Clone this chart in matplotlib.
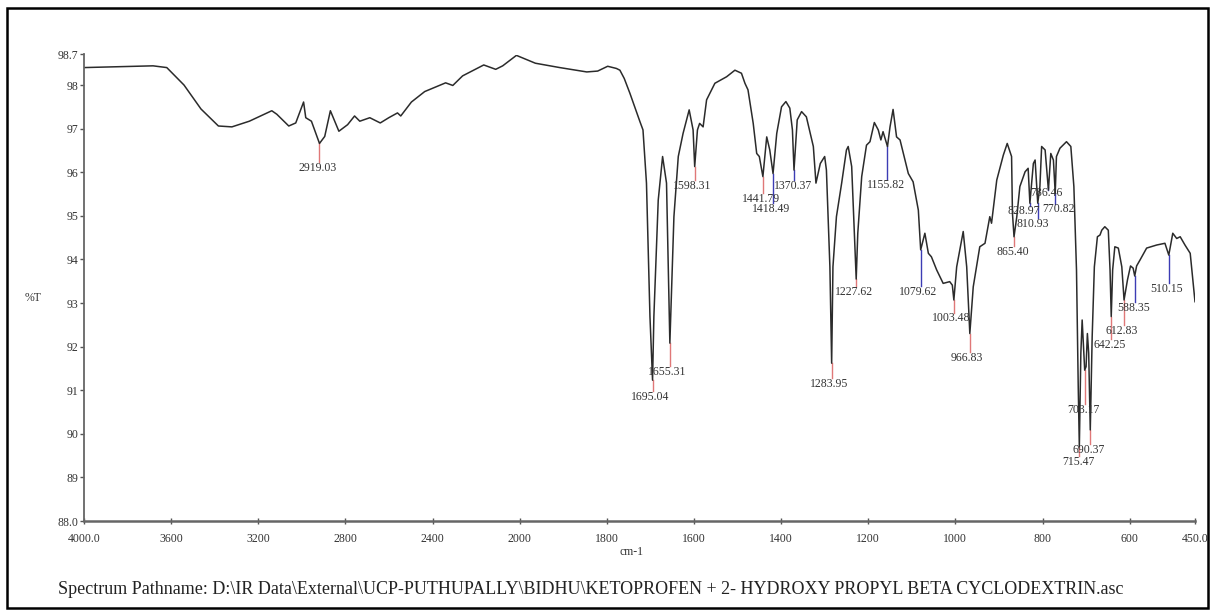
"""IR spectrum: ketoprofen + 2-hydroxypropyl beta cyclodextrin (%T vs cm-1)."""
import matplotlib

matplotlib.use("Agg")  # headless
import matplotlib.pyplot as plt
import numpy as np
from matplotlib.patches import Rectangle

# spectrum, high -> low wavenumber
wavenumber = [
    4000, 3683, 3620, 3541, 3463, 3383, 3321, 3241, 3138, 3115, 3060, 3028,
    2992, 2982, 2956, 2919.03, 2895, 2869, 2830, 2790, 2758, 2734, 2688, 2640,
    2601, 2561, 2546, 2497, 2436, 2340, 2307, 2262, 2165, 2110, 2078, 2015,
    1964, 1908, 1846, 1821, 1798, 1778, 1770, 1760, 1747, 1724, 1717, 1709,
    1701, 1695.04, 1692, 1682, 1672, 1663, 1655.31, 1646, 1636, 1625, 1611,
    1602, 1598.31, 1592, 1587, 1579, 1571, 1552, 1525, 1506, 1491, 1483, 1476,
    1464, 1456, 1450, 1441.79, 1433, 1426, 1418.49, 1410, 1399, 1389, 1380,
    1374, 1370.37, 1363, 1353, 1342, 1326, 1320, 1310, 1300, 1296, 1288,
    1283.95, 1281, 1273, 1261, 1250, 1246, 1238, 1227.62, 1224, 1215, 1204,
    1196, 1186, 1177, 1171, 1166, 1155.82, 1150, 1143, 1135, 1127, 1108, 1097,
    1085, 1079.62, 1070, 1062, 1055, 1043, 1028, 1013, 1007, 1003.48, 997, 982,
    974, 966.83, 959, 944, 932, 921, 917, 905, 890, 881, 871, 869, 865.40, 859,
    852, 840, 833, 828.97, 821, 817, 810.93, 806, 802, 794, 786.46, 781, 775,
    770.82, 768, 760, 745, 735, 728, 722, 718, 715.47, 712, 709, 703.17, 700,
    697, 694, 690.37, 686, 681, 674, 668, 664, 657, 649, 645, 642.25, 639, 634,
    626, 618, 612.83, 605, 598, 592, 588.35, 584, 576, 561, 538, 519, 510.15,
    501, 492, 484, 473, 461, 450,
]
transmittance = [
    98.40, 98.44, 98.40, 98.00, 97.45, 97.06, 97.04, 97.17, 97.41, 97.33, 97.06, 97.13,
    97.61, 97.25, 97.17, 96.66, 96.82, 97.41, 96.94, 97.09, 97.29, 97.17, 97.25, 97.13,
    97.25, 97.36, 97.29, 97.61, 97.85, 98.05, 97.99, 98.21, 98.46, 98.36, 98.44, 98.68,
    98.50, 98.40, 98.30, 98.32, 98.43, 98.38, 98.34, 98.15, 97.81, 97.16, 96.97, 95.75,
    92.69, 91.23, 92.69, 95.36, 96.36, 95.75, 92.08, 94.98, 96.36, 96.89, 97.43,
    96.97, 96.13, 96.97, 97.12, 97.04, 97.66, 98.04, 98.19, 98.34, 98.27, 98.04, 97.89,
    97.12, 96.43, 96.36, 95.90, 96.81, 96.51, 95.97, 96.89, 97.50, 97.62, 97.47,
    96.97, 96.05, 97.20, 97.39, 97.27, 96.59, 95.75, 96.20, 96.36, 96.05, 93.83,
    91.62, 93.83, 94.98, 95.75, 96.51, 96.59, 96.13, 93.55, 94.60, 95.90, 96.62,
    96.70, 97.14, 96.97, 96.74, 96.93, 96.59, 97.04, 97.44, 96.81, 96.74, 95.97, 95.78,
    95.13, 94.22, 94.60, 94.14, 94.06, 93.76, 93.45, 93.49, 93.41, 93.07, 93.83, 94.64,
    93.83, 92.30, 93.37, 94.29, 94.37, 94.98, 94.83, 95.82, 96.39, 96.66, 96.36, 95.06, 94.52, 94.98,
    95.67, 96.01, 96.09, 95.29, 96.20, 96.28, 95.29, 95.67, 96.59, 96.51, 95.59, 96.43, 96.28,
    95.52, 96.36, 96.55, 96.70, 96.59, 95.67, 93.76, 91.08, 89.70, 91.85, 92.61, 91.46, 91.54,
    92.30, 91.85, 90.09, 92.23, 93.83, 94.52, 94.56, 94.67, 94.75, 94.67, 93.76, 92.69, 93.76, 94.29,
    94.26, 93.83, 93.07, 93.53, 93.85, 93.80, 93.62, 93.85, 93.99, 94.26, 94.33, 94.37, 94.10,
    94.60, 94.48, 94.52, 94.33, 94.14, 93.03,
]

peak_labels = [
    "2919.03", "1695.04", "1655.31", "1598.31", "1441.79", "1418.49", "1370.37",
    "1283.95", "1227.62", "1155.82", "1079.62", "1003.48", "966.83", "865.40",
    "828.97", "810.93", "786.46", "770.82", "715.47", "703.17", "690.37",
    "642.25", "612.83", "588.35", "510.15",
]
peak_kind = [  # r = red marker line, b = blue marker line
    "r", "r", "r", "r", "r", "b", "b",
    "r", "r", "b", "b", "r", "r", "r",
    "b", "b", "b", "b", "r", "r", "r",
    "r", "r", "b", "b",
]

x_ticks = [4000, 3600, 3200, 2800, 2400, 2000, 1800, 1600, 1400, 1200, 1000, 800, 600, 450]
x_ticklabels = ["4000.0", "3600", "3200", "2800", "2400", "2000", "1800", "1600",
                "1400", "1200", "1000", "800", "600", "450.0"]
y_ticks = [88, 89, 90, 91, 92, 93, 94, 95, 96, 97, 98, 98.7]
y_ticklabels = ["88.0", "89", "90", "91", "92", "93", "94", "95", "96", "97", "98", "98.7"]

# where the peak label texts sit (wavenumber, %T)
label_pos = [
    (2926, 96.10), (1701, 90.85), (1661, 91.42), (1604, 95.69), (1447, 95.39),
    (1424, 95.16), (1373, 95.69), (1289, 91.14), (1233, 93.25), (1160, 95.71),
    (1085, 93.25), (1010, 92.65), (974, 91.75), (869, 94.18), (843, 95.10),
    (823, 94.82), (791, 95.52), (764, 95.15), (717, 89.35), (706, 90.55),
    (694, 89.63), (645, 92.04), (618, 92.36), (592, 92.89), (515, 93.32),
]

SERIF = ["Liberation Serif", "DejaVu Serif"]
COLORS = {"r": "#e07878", "b": "#3c3cb4"}


def fwd(u):
    # PerkinElmer style axis: 4000-2000 drawn at half the scale of 2000-450
    u = np.asarray(u, dtype=float)
    return np.where(u > 2000, 2000 + (u - 2000) / 2.0, u)


def inv(d):
    d = np.asarray(d, dtype=float)
    return np.where(d > 2000, 2000 + (d - 2000) * 2.0, d)


plt.rcParams["font.family"] = SERIF

W, H = 1215, 612
fig = plt.figure(figsize=(W / 100, H / 100), dpi=100)
ax = fig.add_axes([84 / W, 1 - 521 / H, (1195 - 84) / W, (521 - 54.5) / H])
ax.set_xscale("function", functions=(fwd, inv))

ax.plot(wavenumber, transmittance, color="#2b2b2b", lw=1.1)

wn_up = np.array(wavenumber)[::-1]
t_up = np.array(transmittance)[::-1]
for text, kind, (lx, ly) in zip(peak_labels, peak_kind, label_pos):
    px = float(text)
    top = np.interp(px, wn_up, t_up)
    ax.plot([px, px], [top, ly + 0.13], color=COLORS[kind], lw=1.0, zorder=1)
    ax.text(lx, ly, text, ha="center", va="center", fontsize=8.5, color="#333333")

ax.set_xlim(4000, 450)
ax.set_ylim(88, 98.7)
ax.set_xticks(x_ticks)
ax.set_xticklabels(x_ticklabels)
ax.set_yticks(y_ticks)
ax.set_yticklabels(y_ticklabels)
ax.xaxis.set_minor_locator(matplotlib.ticker.NullLocator())

for side in ("top", "right"):
    ax.spines[side].set_visible(False)
for side in ("left", "bottom"):
    ax.spines[side].set_color("#666666")
ax.spines["left"].set_linewidth(1.3)
ax.spines["bottom"].set_linewidth(1.8)
ax.tick_params(axis="y", direction="out", length=3, width=1, color="#555555",
               labelcolor="#333333", labelsize=8.5, pad=1)
ax.tick_params(axis="x", direction="inout", length=4, width=1, color="#555555",
               labelcolor="#333333", labelsize=8.5, pad=7)

fig.text(33 / W, 1 - 298 / H, "%T", ha="center", va="center", fontsize=8.5, color="#333333")
fig.text(632 / W, 1 - 552 / H, "cm-1", ha="center", va="center", fontsize=8.5, color="#333333")
fig.text(58 / W, 1 - 590 / H,
         "Spectrum Pathname: D:\\IR Data\\External\\UCP-PUTHUPALLY\\BIDHU\\KETOPROFEN + 2- "
         "HYDROXY PROPYL BETA CYCLODEXTRIN.asc",
         ha="left", va="center", fontsize=13, color="#222222")

fig.add_artist(Rectangle((7 / W, 4 / H), (1208 - 7) / W, (608 - 8) / H,
                         transform=fig.transFigure, fill=False, lw=1.8, edgecolor="black"))

fig.savefig("out.png", dpi=100)
plt.close(fig)
print("[plot] saved out.png")
